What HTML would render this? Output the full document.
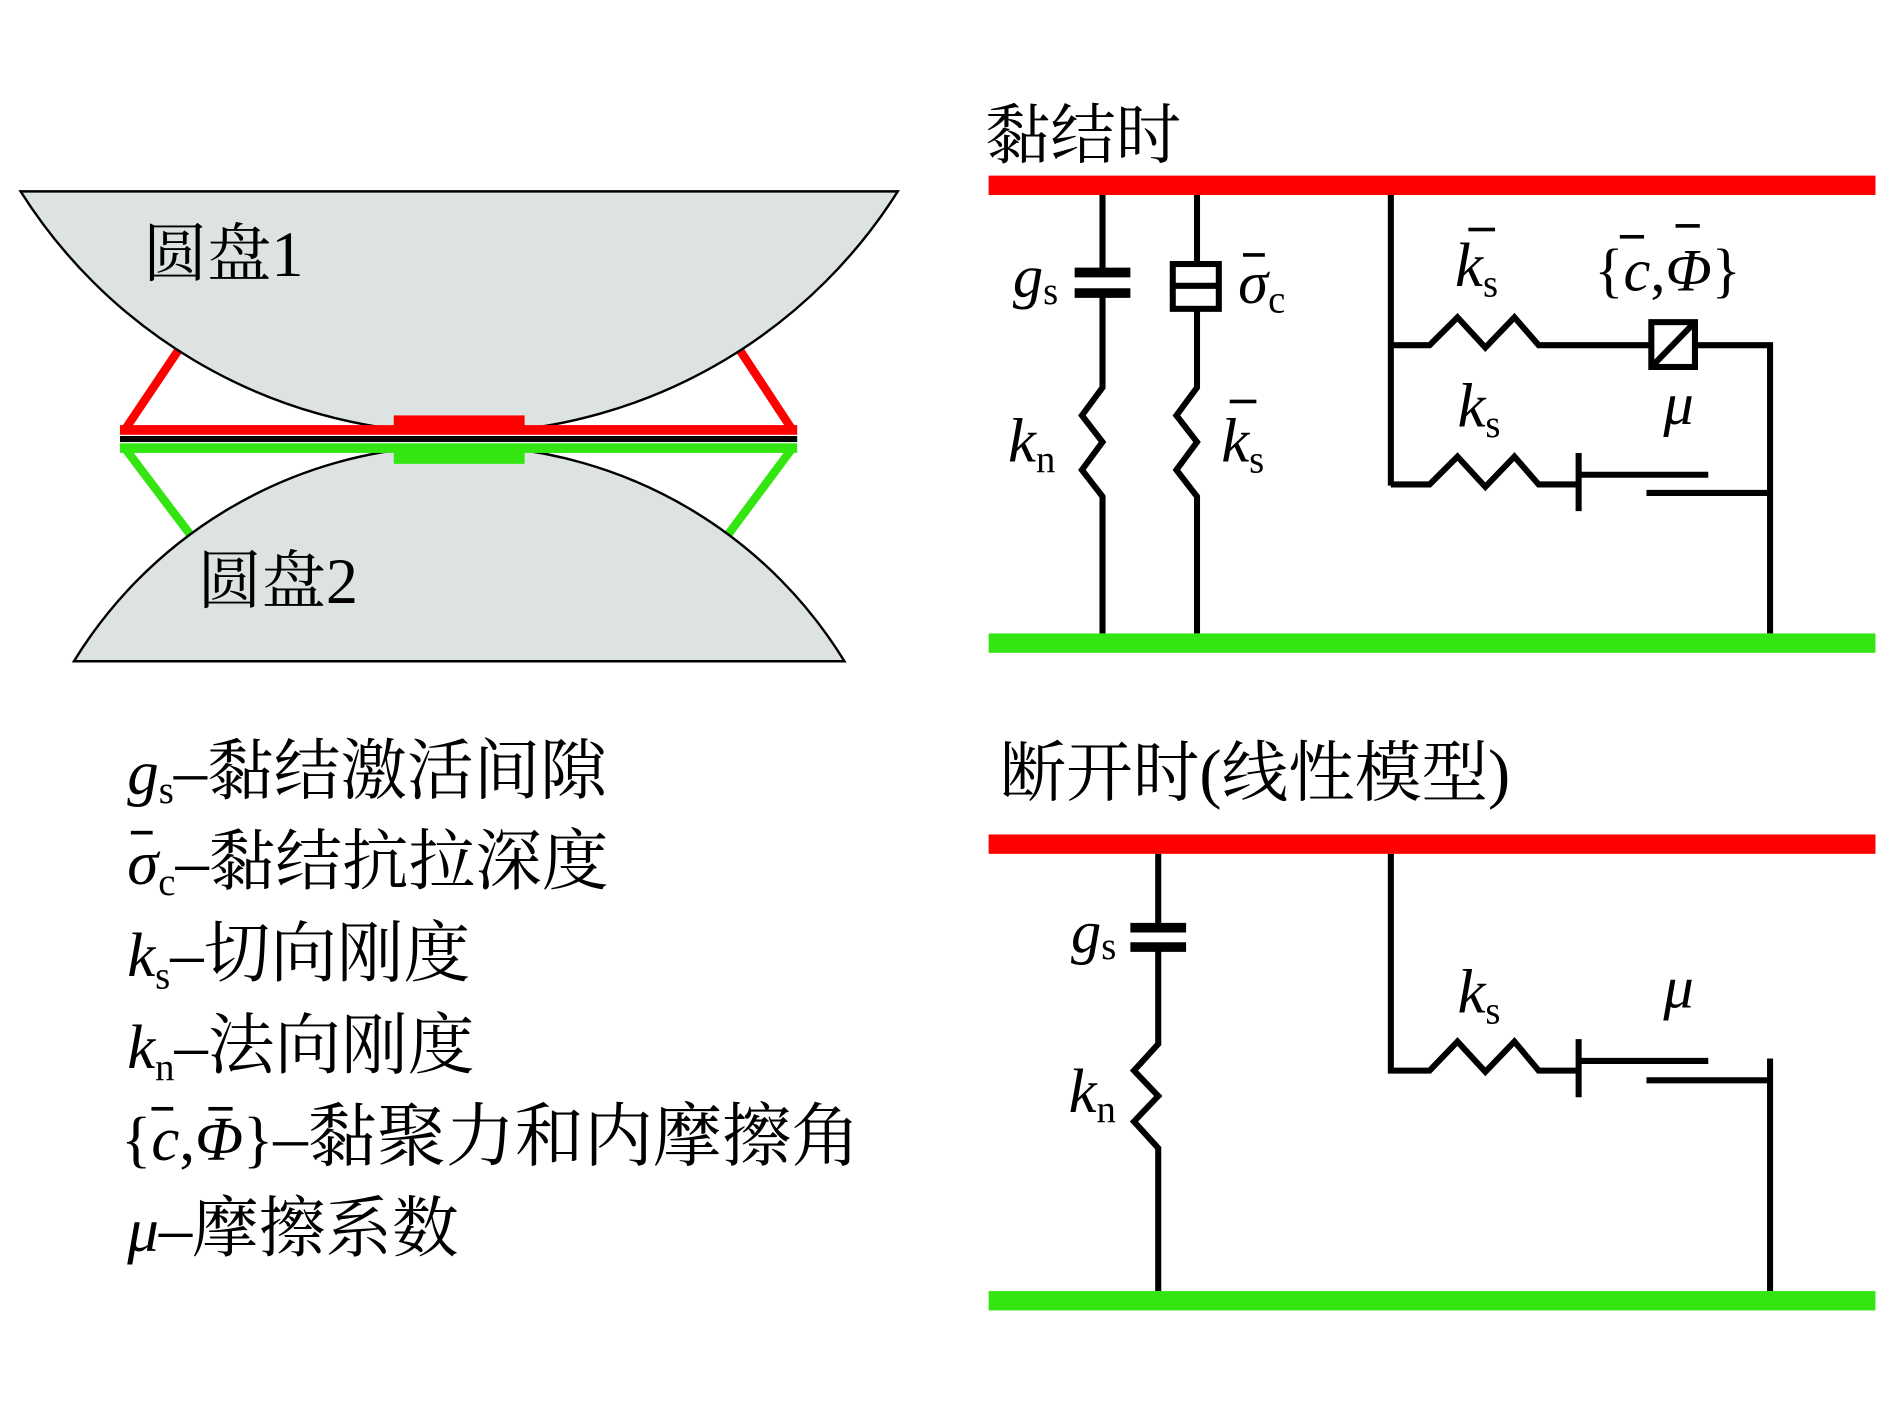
<!DOCTYPE html>
<html><head><meta charset="utf-8"><style>
html,body{margin:0;padding:0;background:#fff;}
svg{display:block;}
.cn{font-family:"Liberation Serif","Noto Serif CJK SC","Noto Sans CJK SC",serif;}
.it{font-family:"Liberation Serif",serif;font-style:italic;}
.rm{font-family:"Liberation Serif",serif;font-style:normal;}
</style></head><body>
<svg width="1890" height="1417" viewBox="0 0 1560 1170" preserveAspectRatio="none" xmlns="http://www.w3.org/2000/svg">
<rect width="1560" height="1170" fill="#fff"/>
<!-- diagonals under discs -->
<g stroke="#ff0000" stroke-width="7" fill="none">
<path d="M152,282 L103,355 M606,282 L654,355"/>
</g>
<g stroke="#33e611" stroke-width="7" fill="none">
<path d="M162,448 L103,370 M596,448 L654,370"/>
</g>
<!-- discs -->
<path d="M17,158 L741,158 A428,428 0 0 1 17,158 Z" fill="#dde3e3" stroke="#000" stroke-width="2"/>
<path d="M61,546 A373,373 0 0 1 697,546 Z" fill="#dde3e3" stroke="#000" stroke-width="2"/>
<rect x="99" y="351" width="559" height="8" fill="#ff0000"/>
<rect x="99" y="366" width="559" height="8" fill="#33e611"/>
<rect x="99" y="360" width="559" height="5" fill="#000"/>
<rect x="325" y="343" width="108" height="15" fill="#ff0000"/>
<rect x="325" y="367" width="108" height="16" fill="#33e611"/>
<text x="118" y="228" class="cn" font-size="53">圆盘1</text>
<text x="163" y="498" class="cn" font-size="53">圆盘2</text>

<!-- top panel -->
<text x="813" y="130" class="cn" font-size="54">黏结时</text>
<rect x="816" y="145" width="732" height="16" fill="#ff0000"/>
<rect x="816" y="523" width="732" height="16" fill="#33e611"/>
<g stroke="#000" stroke-width="5" fill="none" stroke-linejoin="miter">
<path d="M910,161 V225 M910,242 V320 L893,343 L910,365 L893,388 L910,410 V523"/>
<path d="M988,161 V216 M988,256 V320 L971,343 L988,365 L971,388 L988,410 V523"/>
<rect x="968" y="218" width="38" height="37"/>
<path d="M968,236 H1006"/>
<path d="M1148,161 V401"/>
<path d="M1148,285 H1180 L1203,262 L1226,287 L1250,262 L1270,285 H1362"/>
<rect x="1363" y="266" width="36" height="37"/>
<path d="M1363,303 L1399,266"/>
<path d="M1399,285 H1461 V523"/>
<path d="M1148,400 H1180 L1203,377 L1226,402 L1250,377 L1270,400 H1303"/>
<path d="M1303,374 V422"/>
<path d="M1303,392 H1410"/>
<path d="M1359,407 H1461"/>
</g>
<g stroke="#000" stroke-width="8">
<path d="M887,225 H933 M887,242 H933"/>
</g>
<text x="836" y="245" class="it" font-size="50">g<tspan class="rm" font-size="32" dy="6">s</tspan></text>
<text x="1022" y="250" class="it" font-size="50">σ<tspan class="rm" font-size="32" dy="8">c</tspan></text>
<rect x="1026" y="209" width="18" height="3" fill="#000"/>
<text x="832" y="381" class="it" font-size="52">k<tspan class="rm" font-size="32" dy="9">n</tspan></text>
<text x="1008" y="381" class="it" font-size="52">k<tspan class="rm" font-size="32" dy="9">s</tspan></text>
<rect x="1015" y="330" width="22" height="3" fill="#000"/>
<text x="1201" y="236" class="it" font-size="52">k<tspan class="rm" font-size="32" dy="9">s</tspan></text>
<rect x="1212" y="188" width="22" height="3" fill="#000"/>
<text x="1316" y="240" class="it" font-size="50"><tspan class="rm">{</tspan>c<tspan class="rm">,</tspan>Φ<tspan class="rm">}</tspan></text>
<rect x="1337" y="194" width="20" height="3" fill="#000"/>
<rect x="1383" y="185" width="20" height="3" fill="#000"/>
<text x="1203" y="352" class="it" font-size="52">k<tspan class="rm" font-size="32" dy="9">s</tspan></text>
<text x="1373" y="350" class="it" font-size="50">μ</text>

<!-- bottom panel -->
<text x="825" y="657" class="cn" font-size="55">断开时(线性模型)</text>
<rect x="816" y="689" width="732" height="16" fill="#ff0000"/>
<rect x="816" y="1066" width="732" height="16" fill="#33e611"/>
<g stroke="#000" stroke-width="5" fill="none">
<path d="M956,705 V766 M956,781 V862 L936,884 L956,905 L936,926 L956,948 V1066"/>
<path d="M1148,705 V884 H1180 L1203,860 L1226,885 L1250,860 L1270,884 H1303"/>
<path d="M1303,858 V906"/>
<path d="M1303,876 H1410"/>
<path d="M1359,892 H1461"/>
<path d="M1461,874 V1066"/>
</g>
<g stroke="#000" stroke-width="8">
<path d="M933,766 H979 M933,782 H979"/>
</g>
<text x="884" y="786" class="it" font-size="50">g<tspan class="rm" font-size="32" dy="6">s</tspan></text>
<text x="882" y="918" class="it" font-size="52">k<tspan class="rm" font-size="32" dy="9">n</tspan></text>
<text x="1203" y="836" class="it" font-size="52">k<tspan class="rm" font-size="32" dy="9">s</tspan></text>
<text x="1373" y="832" class="it" font-size="50">μ</text>

<!-- legend -->
<g font-size="55">
<text x="105" y="655"><tspan class="it" font-size="52">g</tspan><tspan class="rm" font-size="32" dy="8">s</tspan><tspan class="cn" dy="-8">–黏结激活间隙</tspan></text>
<text x="105" y="730"><tspan class="it" font-size="52">σ</tspan><tspan class="rm" font-size="32" dy="9">c</tspan><tspan class="cn" dy="-9">–黏结抗拉深度</tspan></text>
<rect x="108" y="686" width="18" height="3" fill="#000"/>
<text x="105" y="806"><tspan class="it" font-size="52">k</tspan><tspan class="rm" font-size="32" dy="10">s</tspan><tspan class="cn" dy="-10">–切向刚度</tspan></text>
<text x="105" y="882"><tspan class="it" font-size="52">k</tspan><tspan class="rm" font-size="32" dy="10">n</tspan><tspan class="cn" dy="-10">–法向刚度</tspan></text>
<text x="100" y="958"><tspan class="rm" font-size="52">{</tspan><tspan class="it" font-size="52">c</tspan><tspan class="rm" font-size="52">,</tspan><tspan class="it" font-size="52">Φ</tspan><tspan class="rm" font-size="52">}</tspan><tspan class="cn" font-size="57">–黏聚力和内摩擦角</tspan></text>
<rect x="125" y="914" width="18" height="3" fill="#000"/>
<rect x="172" y="914" width="20" height="3" fill="#000"/>
<text x="105" y="1033"><tspan class="it" font-size="52">μ</tspan><tspan class="cn">–摩擦系数</tspan></text>
</g>
</svg>
</body></html>
